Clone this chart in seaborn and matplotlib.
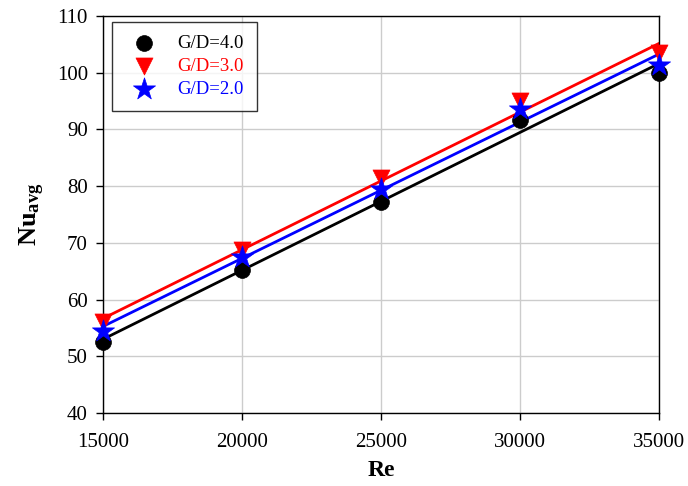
import numpy as np
import pandas as pd
import seaborn as sns
from matplotlib import pyplot as plt

# Data
re_vals = [15000, 20000, 25000, 30000, 35000]
nu_gd40 = [52.5, 65.2, 77.3, 91.7, 100.0]
nu_gd30 = [56.0, 68.8, 81.4, 95.0, 103.5]
nu_gd20 = [54.4, 67.6, 79.5, 93.6, 101.4]
labels = ["G/D=4.0", "G/D=3.0", "G/D=2.0"]

series = [
    (labels[0], nu_gd40, "black", "o", 130),
    (labels[1], nu_gd30, "red", "v", 150),
    (labels[2], nu_gd20, "blue", "*", 280),
]

sns.set_style("whitegrid")
plt.rcParams["font.family"] = ["Liberation Serif", "DejaVu Serif"]
plt.rcParams["mathtext.fontset"] = "custom"
plt.rcParams["mathtext.rm"] = "Liberation Serif"
plt.rcParams["mathtext.bf"] = "Liberation Serif:bold"
plt.rcParams["text.color"] = "black"
plt.rcParams["axes.labelcolor"] = "black"

fig, ax = plt.subplots(figsize=(6.88, 4.86), dpi=100)
fig.subplots_adjust(left=0.15, right=0.958, top=0.967, bottom=0.15)

for name, vals, color, marker, size in series:
    df = pd.DataFrame({"Re": re_vals, "Nu": vals})
    # linear trendline
    sns.regplot(data=df, x="Re", y="Nu", scatter=False, ci=None, color=color,
                line_kws={"linewidth": 2}, ax=ax)
for name, vals, color, marker, size in series:
    df = pd.DataFrame({"Re": re_vals, "Nu": vals})
    sns.scatterplot(data=df, x="Re", y="Nu", color=color, marker=marker, s=size,
                    edgecolor=color, linewidth=0.5, label=name, ax=ax,
                    zorder=5, clip_on=False)

ax.set_xlim(15000, 35000)
ax.set_ylim(40, 110)
ax.set_xticks(re_vals)
ax.set_yticks(range(40, 111, 10))
ax.grid(True, color="#cccccc", linewidth=1)
for sp in ax.spines.values():
    sp.set_color("black")
    sp.set_linewidth(1)
ax.tick_params(axis="both", labelsize=15, direction="out", length=5,
               color="black", labelcolor="black", width=1, left=True, bottom=True)
ax.tick_params(axis="x", pad=9)
ax.tick_params(axis="y", pad=6)
ax.set_xlabel("Re", fontsize=17, fontweight="bold", labelpad=6)
ax.set_ylabel(r"$\mathbf{Nu_{avg}}$", fontsize=19, labelpad=7)

leg = ax.legend(loc="upper left", bbox_to_anchor=(0.016, 0.985), frameon=True,
                fancybox=False, edgecolor="black", fontsize=13.5,
                borderpad=0.7, borderaxespad=0, handletextpad=0.8,
                labelspacing=0.3, markerscale=1.0)
leg.get_frame().set_linewidth(1)
for txt, (_, _, color, _, _) in zip(leg.get_texts(), series):
    txt.set_color(color)

plt.savefig("out.png", dpi=100)
plt.close()
